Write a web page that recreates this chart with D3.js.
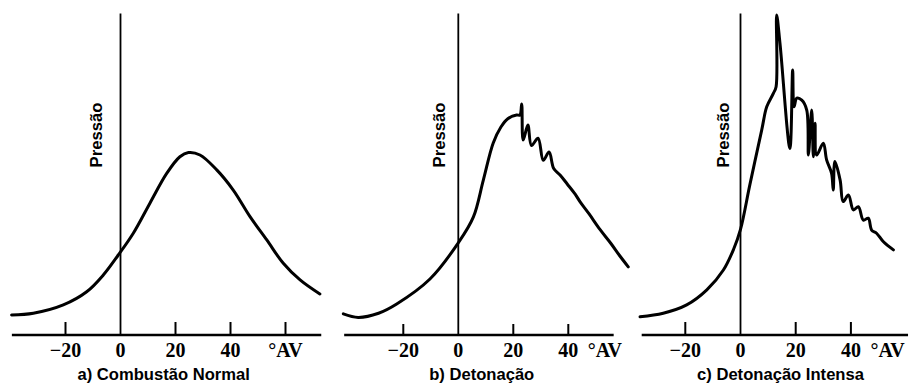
<!DOCTYPE html>
<html>
<head>
<meta charset="utf-8">
<script src="https://cdn.jsdelivr.net/npm/d3@7"></script>
<style>
  html, body { margin: 0; padding: 0; background: #fff; }
  svg { display: block; }
</style>
</head>
<body>
<svg id="chart" width="910" height="389"></svg>
<script>
// Pressure traces vs crank angle (degrees) for three combustion regimes.
const panelTitles = ["a) Combustão Normal", "b) Detonação", "c) Detonação Intensa"];
const yTitle = "Pressão";
const unitLabel = "°AV";
const tickValues = [-20, 0, 20, 40];
const tickLabels = ["−20", "0", "20", "40"];
const extraTickA = [60];

// a) normal combustion
const angleA    = [-39.6, -31.7, -20.8, -12.3, -6.25, -0.8, 4.65, 10.7, 16.8, 21.6, 24.7, 28.9, 35.0, 41.0, 47.1, 53.2, 59.2, 65.3, 72.5];
const pressureA = [6.25, 6.8, 9.4, 13.5, 18.75, 25.0, 31.8, 41.2, 50.5, 55.7, 57.0, 56.25, 51.6, 45.3, 37.0, 29.7, 22.4, 17.2, 12.8];

// b) knock
const angleB    = [-41.8, -36.4, -29, -22.4, -10.3, 0, 5.5, 9.1, 12.7, 15.5, 18.0, 21.2, 22.4, 23.05, 23.6, 25.3, 26.6, 29.0, 30.9, 33.0, 34.7, 37.0, 39.6, 42.5, 44.3, 47.5, 51.5, 55.5, 58.5, 61.8];
const pressureB = [6.6, 5.5, 6.8, 9.7, 17.5, 28.8, 36.9, 48.4, 60, 65.0, 67.6, 68.75, 68.75, 72.2, 60.9, 65.6, 59.2, 61.5, 54.6, 57.2, 52.0, 50.0, 47.2, 44.0, 41.6, 37.9, 33.0, 28.6, 25.0, 21.3];

// c) heavy knock
const angleC    = [-36.4, -28.0, -19.5, -12.2, -6.2, -2.5, 0, 3.4, 7.7, 9.5, 11.9, 12.9, 13.1, 14.3, 17.9, 18.9, 19.4, 20.4, 22.2, 24.0, 24.6, 25.8, 26.4, 27.0, 27.6, 30.0, 31.2, 33.0, 33.6, 34.2, 36.1, 37.2, 39.1, 40.9, 42.7, 44.5, 46.3, 47.5, 49.3, 51.7, 55.4];
const pressureC = [5.7, 6.8, 9.4, 14.1, 20.3, 26.8, 33.0, 47.0, 64.1, 71.3, 75.5, 77.6, 100, 91.2, 58.3, 82.8, 71.3, 74.0, 73.4, 70.3, 56.25, 70.3, 55.7, 66.2, 56.25, 59.9, 54.7, 50.5, 45.3, 54.2, 48.4, 41.7, 43.75, 39.1, 40.1, 35.9, 36.5, 32.8, 31.8, 29.2, 26.6];

const series = [
  { angle: angleA, pressure: pressureA },
  { angle: angleB, pressure: pressureB },
  { angle: angleC, pressure: pressureC }
];

// panel geometry
const layout = [
  { x20: 65.5,  x40: 230.5, axisFrom: -39.5, axisTo: 73.0, unitAt: 60,   unitTicks: extraTickA, yLabelX: 101.5, tickLen: 13, titleX: 163.7 },
  { x20: 403.3, x40: 568.3, axisFrom: -41.5, axisTo: 56.5, unitAt: 53.3, unitTicks: [],         yLabelX: 444.5, tickLen: 11, titleX: 481.7 },
  { x20: 685.3, x40: 850.9, axisFrom: -35.8, axisTo: 60.7, unitAt: 53.3, unitTicks: [],         yLabelX: 728.5, tickLen: 13, titleX: 780.5 }
];

const svg = d3.select("#chart");
svg.append("rect").attr("width", 910).attr("height", 389).attr("fill", "#fff");

const y = d3.scaleLinear().domain([0, 100]).range([335, 15]);

const line = d3.line().curve(d3.curveCatmullRom.alpha(0.5));

panelTitles.forEach((title, i) => {
  const L = layout[i];
  const x = d3.scaleLinear().domain([-20, 40]).range([L.x20, L.x40]);
  const g = svg.append("g");

  // horizontal axis line
  g.append("line")
    .attr("x1", x(L.axisFrom)).attr("x2", x(L.axisTo))
    .attr("y1", y(0)).attr("y2", y(0))
    .attr("stroke", "#000").attr("stroke-width", 2.4);

  // tick marks (0 is the pressure axis itself)
  const marks = tickValues.filter(v => v !== 0).concat(L.unitTicks);
  g.selectAll("line.tick").data(marks).enter().append("line")
    .attr("class", "tick")
    .attr("x1", d => x(d)).attr("x2", d => x(d))
    .attr("y1", y(0)).attr("y2", y(0) - L.tickLen)
    .attr("stroke", "#000").attr("stroke-width", 2);

  // vertical pressure axis at 0
  g.append("line")
    .attr("x1", x(0)).attr("x2", x(0))
    .attr("y1", y(100.5)).attr("y2", y(0))
    .attr("stroke", "#000").attr("stroke-width", 1.8);

  // tick labels
  g.selectAll("text.tl").data(tickValues).enter().append("text")
    .attr("class", "tl")
    .attr("x", d => x(d)).attr("y", 356.5)
    .attr("text-anchor", "middle")
    .attr("font-family", "'Liberation Serif', 'Times New Roman', serif")
    .attr("font-weight", "bold")
    .attr("font-size", 20)
    .attr("fill", "#000")
    .text((d, k) => tickLabels[k]);

  g.append("text")
    .attr("x", x(L.unitAt)).attr("y", 356.5)
    .attr("text-anchor", "middle")
    .attr("font-family", "'Liberation Serif', 'Times New Roman', serif")
    .attr("font-weight", "bold")
    .attr("font-size", 20)
    .attr("fill", "#000")
    .text(unitLabel);

  // y title
  g.append("text")
    .attr("transform", `translate(${L.yLabelX},${135}) rotate(-90)`)
    .attr("text-anchor", "middle")
    .attr("font-family", "'Liberation Sans', Arial, sans-serif")
    .attr("font-weight", "bold")
    .attr("font-size", 16.7)
    .attr("fill", "#000")
    .text(yTitle);

  // panel title
  g.append("text")
    .attr("x", L.titleX).attr("y", 380)
    .attr("text-anchor", "middle")
    .attr("font-family", "'Liberation Sans', Arial, sans-serif")
    .attr("font-weight", "bold")
    .attr("font-size", 16.6)
    .attr("fill", "#000")
    .text(title);

  // pressure trace
  const s = series[i];
  const pts = s.angle.map((a, k) => [x(a), y(s.pressure[k])]);
  g.append("path")
    .attr("d", line(pts))
    .attr("fill", "none")
    .attr("stroke", "#000")
    .attr("stroke-width", 3)
    .attr("stroke-linejoin", "round")
    .attr("stroke-linecap", "round");
});
</script>
</body>
</html>
